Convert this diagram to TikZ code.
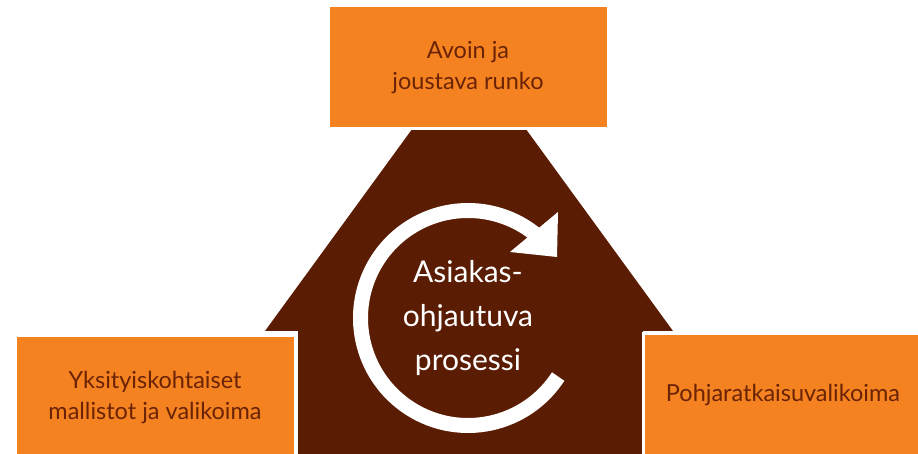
\documentclass[tikz,border=0pt]{standalone}
\usepackage{fontspec}
\setmainfont{Lato}
\usepackage{tikz}
\definecolor{houseorange}{RGB}{245,130,32}
\definecolor{housebrown}{RGB}{90,28,2}
\definecolor{labelbrown}{RGB}{106,35,5}

\begin{document}
\begin{tikzpicture}[x=1pt,y=1pt]
    \tikzstyle{pillar}=[rectangle, fill=houseorange, draw=white, line width=3pt, minimum width=280pt, minimum height=123pt, align=center, text=labelbrown, font=\fontsize{23.5}{31}\selectfont]
    \tikzstyle{turn}=[white, line width=15pt]
    \tikzstyle{core}=[align=center, text=white, font=\fontsize{30}{44}\selectfont]

    \useasboundingbox (0,0) rectangle (918,454);

    % house
    \fill[housebrown] (298,0) -- (298,123) -- (265,123) -- (469,403) -- (673,123) -- (643,123) -- (643,0) -- cycle;

    % process arrow
    \draw[turn] (468,136) ++(-33:107.5) arc[start angle=-33, end angle=-310, radius=107.5];
    \fill[white] (510,202) -- (558,242) -- (557,197) -- cycle;
    \node[core] (process) at (468,136) {Asiakas-\\ohjautuva\\prosessi};

    % boxes
    \node[pillar] (frame) at (468,386.5) {Avoin ja\\joustava runko};
    \node[pillar] (collections) at (155,57) {Yksityiskohtaiset\\mallistot ja valikoima};
    \node[pillar] (floorplans) at (783,59) {Pohjaratkaisuvalikoima};

\end{tikzpicture}
\end{document}
